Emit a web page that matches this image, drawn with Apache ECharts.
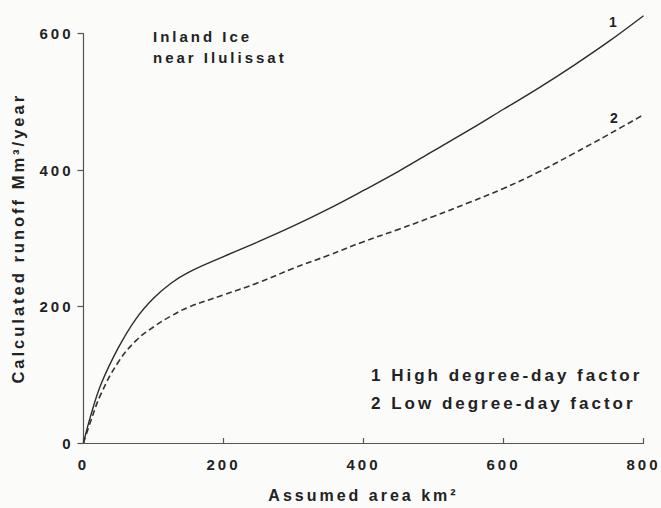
<!DOCTYPE html>
<html>
<head>
<meta charset="utf-8">
<script src="https://cdn.jsdelivr.net/npm/echarts@6/dist/echarts.min.js"></script>
<style>
  html, body { margin: 0; padding: 0; background: #fbfbfa; overflow: hidden; width: 661px; height: 508px; }
  #chart { width: 661px; height: 508px; overflow: hidden; }
  #chart svg { display: block; }
  #chart svg text { letter-spacing: 3px; }
</style>
</head>
<body>
<div id="chart"></div>
<script>
// ---- data ----
const areaKm2 = [0, 10, 25, 50, 75, 100, 125, 150, 200, 250, 300, 350, 400, 450, 500, 550, 600, 650, 700, 750, 800];
const runoffHigh = [0, 39, 86, 140, 182, 212, 234, 250, 273, 295, 318, 343, 370, 398, 428, 458, 489, 520, 553, 588, 626];
const runoffLow  = [0, 31, 72, 119, 150, 170, 186, 199, 217, 235, 256, 275, 295, 313, 332, 352, 373, 397, 424, 452, 481];
const xTicks = [0, 200, 400, 600, 800];
const yTicks = [0, 200, 400, 600];
const titleLines = ['Inland Ice', 'near Ilulissat'];
const legendLines = ['1 High degree-day factor', '2 Low degree-day factor'];
const curveLabels = ['1', '2'];
const xName = 'Assumed area km\u00B2';
const yName = 'Calculated runoff Mm\u00B3/year';

const FONT = "'Liberation Sans', Arial, sans-serif";
const INK = '#222';
const LINE = '#2b2b2b';

const chart = echarts.init(document.getElementById('chart'), null, { renderer: 'svg' });

const pairs = (xs, ys) => xs.map((x, i) => [x, ys[i]]);

chart.setOption({
  backgroundColor: '#fbfbfa',
  animation: false,
  grid: { left: 83.5, right: 17.5, top: 33.5, bottom: 55.5, containLabel: false },
  xAxis: {
    type: 'value', min: xTicks[0], max: xTicks[xTicks.length - 1], interval: 200,
    name: xName, nameLocation: 'middle', nameGap: 44,
    nameTextStyle: { fontFamily: FONT, fontWeight: 'bold', fontSize: 16, color: INK },
    axisLine: { lineStyle: { color: '#555', width: 1.2 } },
    axisTick: { show: true, inside: true, length: 5, lineStyle: { color: '#555', width: 1.2 } },
    axisLabel: { margin: 14, fontFamily: FONT, fontWeight: 'bold', fontSize: 15, color: INK },
    splitLine: { show: false }
  },
  yAxis: {
    type: 'value', min: yTicks[0], max: yTicks[yTicks.length - 1], interval: 200,
    name: yName, nameLocation: 'middle', nameGap: 57, nameRotate: 90,
    nameTextStyle: { fontFamily: FONT, fontWeight: 'bold', fontSize: 16.5, color: INK },
    axisLine: { show: true, lineStyle: { color: '#555', width: 1.2 } },
    axisTick: { show: true, inside: false, length: 6, lineStyle: { color: '#555', width: 1.2 } },
    axisLabel: { margin: 10, fontFamily: FONT, fontWeight: 'bold', fontSize: 15, color: INK },
    splitLine: { show: false }
  },
  series: [
    {
      name: curveLabels[0], type: 'line', data: pairs(areaKm2, runoffHigh),
      smooth: 0.4, showSymbol: false, clip: false,
      lineStyle: { color: LINE, width: 1.4, type: 'solid' }
    },
    {
      name: curveLabels[1], type: 'line', data: pairs(areaKm2, runoffLow),
      smooth: 0.4, showSymbol: false, clip: false,
      lineStyle: { color: '#333', width: 1.6, type: [6, 3.5] }
    }
  ],
  graphic: [
    { type: 'text', left: 153, top: 26, style: { text: titleLines.join('\n'), lineHeight: 21,
      font: "bold 15px " + FONT, fill: INK } },
    { type: 'text', left: 371, top: 361, style: { text: legendLines.join('\n'), lineHeight: 28,
      font: "bold 17px " + FONT, fill: INK } },
    { type: 'text', left: 609, top: 15, style: { text: curveLabels[0], font: "bold 14px " + FONT, fill: INK } },
    { type: 'text', left: 610, top: 111, style: { text: curveLabels[1], font: "bold 14px " + FONT, fill: INK } }
  ]
});
</script>
</body>
</html>
